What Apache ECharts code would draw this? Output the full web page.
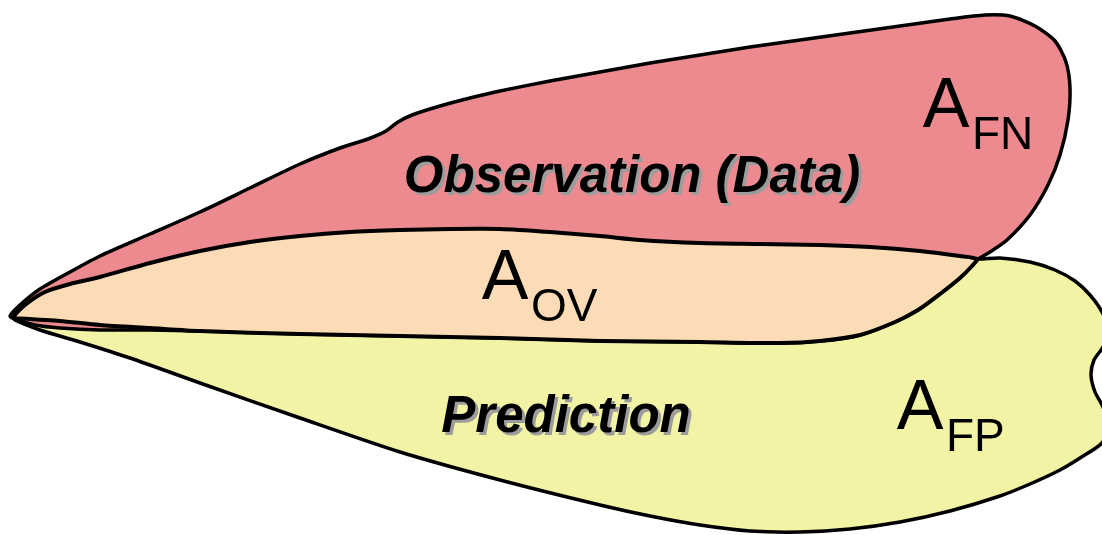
<!DOCTYPE html>
<html>
<head>
<meta charset="utf-8">
<script src="https://cdn.jsdelivr.net/npm/echarts@6/dist/echarts.min.js"></script>
<style>
html,body{margin:0;padding:0;background:#fff;}
#chart{width:1102px;height:535px;}
</style>
</head>
<body>
<div id="chart"></div>
<script>
// Outlines of the regions, in diagram units (x right, y down)
const predictionOutline = [
  [14,317],[25,305],[45,292],[70,284],[100,277],[150,263],[200,251],[250,242],[300,236],[350,232],
  [400,230],[450,229],[500,229],[550,232],[600,236],[640,240],[700,243],[760,244],[820,245],[870,247],
  [920,251],[960,256],[977,259],[1000,258],[1030,262],[1055,270],[1075,281],[1090,295],[1102,312],
  [1108,330],[1103,347],[1094,360],[1091,375],[1095,392],[1103,407],[1108,425],[1102,443],[1080,458],
  [1060,470],[1030,484],[1000,496],[950,511],[900,522],[850,529],[800,532],[750,531],[700,525],
  [650,516],[600,505],[500,480],[400,452],[300,418],[200,383],[130,358],[80,342],[40,330],[15,320]
];
const observationOutline = [
  [10,316],[20,305],[40,289],[70,272],[100,256],[150,234],[200,212],[250,188],[300,164],[340,148],
  [368,139],[386,131],[398,122],[412,115],[440,106],[470,98],[500,91],[550,81],[600,72],[650,63],
  [700,55],[750,47],[800,40],[850,33],[900,26],[950,19],[985,15],[1010,16],[1035,26],[1055,41],
  [1066,62],[1070,88],[1068,120],[1060,155],[1048,185],[1030,215],[1007,240],[990,252],[977,260],
  [965,272],[945,290],[920,308],[895,322],[860,335],[820,341],[780,343],[700,342],[600,341],
  [500,338],[400,336],[300,334],[200,331],[150,330],[100,330],[60,328],[35,325],[15,319]
];
const overlapOutline = [
  [14,317],[25,305],[45,292],[70,284],[100,277],[150,263],[200,251],[250,242],[300,236],[350,232],
  [400,230],[450,229],[500,229],[550,232],[600,236],[640,240],[700,243],[760,244],[820,245],[870,247],
  [920,251],[960,256],[977,259],[972,266],[960,278],[940,294],[918,310],[895,322],[860,335],[820,341],
  [780,343],[700,342],[600,341],[500,338],[400,336],[300,334],[200,331],[150,328],[100,325],[60,321],[30,319]
];
// Labels
const regionNames = ['Observation (Data)', 'Prediction'];
const regionNameAt = [[632,178],[566,418]];
const areaMain = ['A','A','A'];
const areaSub = ['FN','OV','FP'];
const areaAt = [[946,108],[505,280],[920,410]];

const chart = echarts.init(document.getElementById('chart'), null, {renderer:'canvas'});

function polygonSeries(points, fill, lw) {
  return {
    type: 'custom',
    coordinateSystem: 'cartesian2d',
    clip: true,
    data: points,
    silent: true,
    renderItem: function (params, api) {
      if (params.dataIndex !== 0) return null;
      const pts = points.map(p => api.coord(p));
      return {
        type: 'polygon',
        shape: { points: pts, smooth: 0.25 },
        style: { fill: fill, stroke: '#000', lineWidth: lw, lineJoin: 'round' }
      };
    }
  };
}

const FONT = 'Liberation Sans, Arial, sans-serif';

const textSeries = {
  type: 'custom',
  coordinateSystem: 'cartesian2d',
  silent: true,
  data: regionNameAt.map((p, i) => [p[0], p[1], i]),
  renderItem: function (params, api) {
    const c = api.coord([api.value(0), api.value(1)]);
    const base = {
      text: regionNames[api.value(2)],
      fontFamily: FONT, fontWeight: 'bold', fontStyle: 'italic', fontSize: 51,
      align: 'center', verticalAlign: 'middle'
    };
    return {
      type: 'group',
      children: [
        { type: 'text', x: c[0] + 3, y: c[1] + 3, style: Object.assign({}, base, { fill: '#9c9c9c' }) },
        { type: 'text', x: c[0], y: c[1], style: Object.assign({}, base, { fill: '#000' }) }
      ]
    };
  }
};

const areaSeries = {
  type: 'custom',
  coordinateSystem: 'cartesian2d',
  silent: true,
  data: areaAt.map((p, i) => [p[0], p[1], i]),
  renderItem: function (params, api) {
    const c = api.coord([api.value(0), api.value(1)]);
    const i = api.value(2);
    return {
      type: 'group',
      children: [
        { type: 'text', x: c[0], y: c[1],
          style: { text: areaMain[i], fontFamily: FONT, fontSize: 70,
                   fill: '#000', align: 'center', verticalAlign: 'middle' } },
        { type: 'text', x: c[0] + 26, y: c[1] + 28,
          style: { text: areaSub[i], fontFamily: FONT, fontSize: 46,
                   fill: '#000', align: 'left', verticalAlign: 'middle' } }
      ]
    };
  }
};

chart.setOption({
  animation: false,
  backgroundColor: '#ffffff',
  grid: { left: 0, right: 0, top: 0, bottom: 0 },
  xAxis: { type: 'value', min: 0, max: 1102, show: false },
  yAxis: { type: 'value', min: 0, max: 535, inverse: true, show: false },
  series: [
    polygonSeries(predictionOutline, '#F3F3A6', 3.5),
    polygonSeries(observationOutline, '#EC8A90', 3.5),
    polygonSeries(overlapOutline, '#FBDCB6', 4),
    textSeries,
    areaSeries
  ]
});
</script>
</body>
</html>
